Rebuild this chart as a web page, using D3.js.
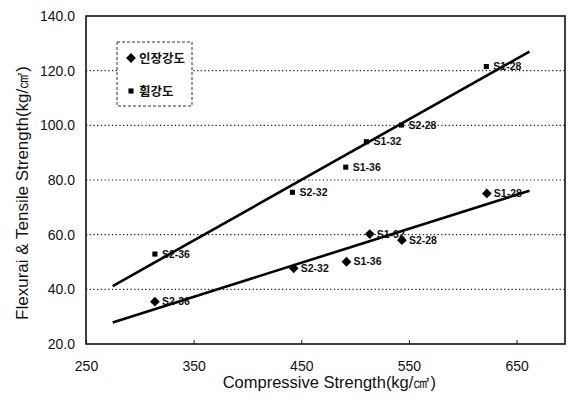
<!DOCTYPE html>
<html>
<head>
<meta charset="utf-8">
<script src="https://cdn.jsdelivr.net/npm/d3@7"></script>
<style>
  body { margin: 0; background: #fff; }
  text { font-family: "Liberation Sans", Arial, sans-serif; fill: #111; }
  .kr { font-family: "Noto Sans CJK KR", sans-serif; }
</style>
</head>
<body>
<svg id="chart"></svg>
<script>
// tick values
const xTicks = [250, 350, 450, 550, 650];
const yTicks = [20, 40, 60, 80, 100, 120, 140];
const gridTicks = [40, 60, 80, 100, 120];

// specimen labels, shared by both series
const specimens = ['S2-36', 'S2-32', 'S1-36', 'S1-32', 'S2-28', 'S1-28'];

// tensile strength (diamonds)
const tensileX = [314, 443, 492, 513.6, 543.5, 622.4];
const tensileY = [35.5, 47.7, 50.1, 60.2, 58.0, 75.1];

// flexural strength (square marks)
const flexX = [314, 441.8, 491.3, 510.5, 543, 621.9];
const flexY = [52.9, 75.5, 84.7, 94.0, 100.1, 121.5];

// fitted lines, end points
const trendX = [274.8, 662];
const flexTrendY = [41.2, 127];
const tensileTrendY = [27.9, 76.1];

const legendLabels = ['인장강도', '휨강도'];

const fullWidth = 572, fullHeight = 404;
const margin = {top: 16, right: 7, bottom: 60, left: 86};
const width = fullWidth - margin.left - margin.right;
const height = fullHeight - margin.top - margin.bottom;

const x = d3.scaleLinear().domain([250, 695]).range([0, width]);
const y = d3.scaleLinear().domain([20, 140]).range([height, 0]);

const svg = d3.select('#chart')
    .attr('width', fullWidth)
    .attr('height', fullHeight);

const g = svg.append('g')
    .attr('transform', `translate(${margin.left}, ${margin.top})`);

// dotted gridlines
g.selectAll('.grid').data(gridTicks)
  .enter().append('line')
    .attr('class', 'grid')
    .attr('x1', 0).attr('x2', width)
    .attr('y1', d => y(d)).attr('y2', d => y(d))
    .attr('stroke', '#222')
    .attr('stroke-width', 1.2)
    .attr('stroke-dasharray', '1.3,2.4');

// axes
const xAxis = d3.axisBottom(x).tickValues(xTicks).tickSize(-4).tickPadding(14);
const yAxis = d3.axisLeft(y).tickValues(yTicks).tickSize(0).tickPadding(11)
    .tickFormat(d3.format('.1f'));

const gx = g.append('g')
    .attr('transform', `translate(0, ${height})`)
    .call(xAxis);
gx.select('.domain').remove();
gx.selectAll('text').attr('font-size', 14).attr('dy', '0.9em');
gx.selectAll('line').attr('stroke', '#222');

const gy = g.append('g').call(yAxis);
gy.select('.domain').remove();
gy.selectAll('text').attr('font-size', 14);

// plot frame
g.append('rect')
    .attr('width', width).attr('height', height)
    .attr('fill', 'none')
    .attr('stroke', '#111')
    .attr('stroke-width', 1.6);

// trend lines
const line = d3.line().x(d => x(d[0])).y(d => y(d[1]));
[flexTrendY, tensileTrendY].forEach(ys => {
    g.append('path')
        .datum(trendX.map((v, i) => [v, ys[i]]))
        .attr('d', line)
        .attr('fill', 'none')
        .attr('stroke', '#000')
        .attr('stroke-width', 2.6);
});

// square turned 45deg gives an even diamond (d3's own is too tall)
const diamond = d3.symbol().type(d3.symbolSquare).size(48);
const square = d3.symbol().type(d3.symbolSquare).size(26);

function drawSeries(xs, ys, sym, rot) {
    const pts = specimens.map((s, i) => ({label: s, x: xs[i], y: ys[i]}));
    const p = g.selectAll(null).data(pts)
      .enter().append('g')
        .attr('transform', d => `translate(${x(d.x)}, ${y(d.y)})`);
    p.append('path').attr('d', sym)
        .attr('transform', `rotate(${rot})`)
        .attr('fill', '#000');
    p.append('text')
        .attr('x', 7)
        .attr('dy', '0.35em')
        .attr('font-size', 10.5)
        .attr('font-weight', 'bold')
        .text(d => d.label);
}
drawSeries(flexX, flexY, square, 0);
drawSeries(tensileX, tensileY, diamond, 45);

// legend
const legend = svg.append('g').attr('transform', 'translate(117, 42)');
legend.append('rect')
    .attr('width', 75).attr('height', 64)
    .attr('fill', '#fff')
    .attr('stroke', '#333')
    .attr('stroke-width', 1)
    .attr('stroke-dasharray', '3,2');
const li = legend.selectAll('.item').data(legendLabels)
  .enter().append('g')
    .attr('class', 'item')
    .attr('transform', (d, i) => `translate(14, ${16 + i * 33})`);
li.append('path')
    .attr('d', (d, i) => i === 0 ? diamond() : square())
    .attr('transform', (d, i) => i === 0 ? 'rotate(45)' : null)
    .attr('fill', '#000');
li.append('text')
    .attr('class', 'kr')
    .attr('x', 8)
    .attr('dy', '0.36em')
    .attr('font-size', 12.5)
    .attr('font-weight', 'bold')
    .text(d => d);

// axis titles
svg.append('text')
    .attr('x', margin.left + x(450) + 28)
    .attr('y', 388)
    .attr('text-anchor', 'middle')
    .attr('font-size', 16.5)
    .text('Compressive Strength(kg/㎠)');

svg.append('text')
    .attr('transform', `translate(28, 193) rotate(-90)`)
    .attr('text-anchor', 'middle')
    .attr('font-size', 17)
    .text('Flexurai & Tensile Strength(kg/㎠)');
</script>
</body>
</html>
